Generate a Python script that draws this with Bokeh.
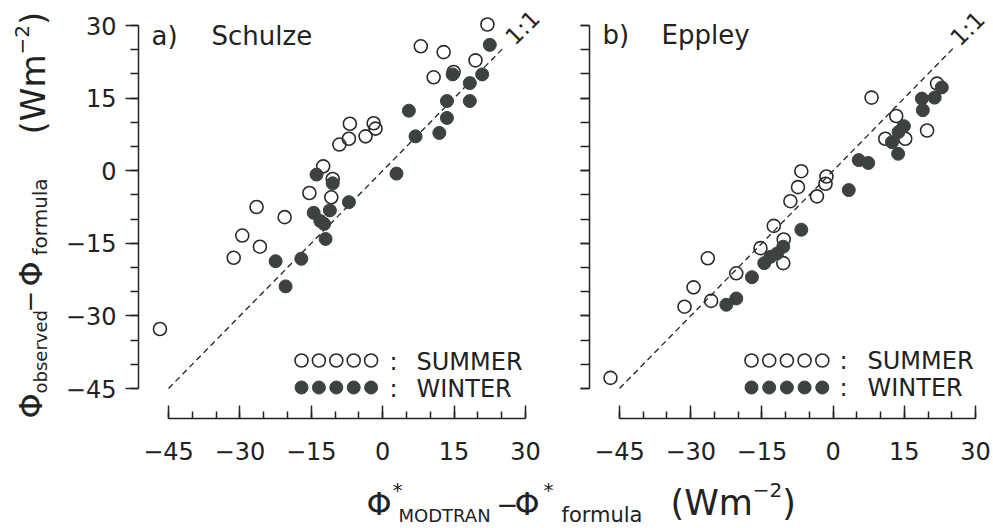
import math
from bokeh.plotting import figure
from bokeh.models import Range1d, LinearAxis, FixedTicker, CustomJSTickFormatter, Label
from bokeh.embed import file_html
from bokeh.resources import INLINE

# ---------------- data ----------------
tick_values = [-45, -30, -15, 0, 15, 30]
minor_tick_values = [-45, -40, -35, -30, -25, -20, -15, -10, -5, 0, 5, 10, 15, 20, 25, 30]
one_to_one = [-45, 25.5]

schulze_summer_x = [22.0, 8.0, 12.8, 19.5, 10.7, 14.9, -6.9, -1.9, -1.5, -3.6, -7.1, -9.1,
                    -12.5, -10.5, -15.4, -10.8, -26.5, -20.6, -29.5, -25.8, -31.3, -46.8]
schulze_summer_y = [30.2, 25.7, 24.5, 22.8, 19.3, 20.4, 9.7, 9.8, 8.7, 7.1, 6.6, 5.4,
                    0.9, -1.7, -4.6, -5.5, -7.5, -9.6, -13.4, -15.7, -18.0, -32.7]
schulze_winter_x = [22.5, 14.7, 18.3, 20.9, 13.5, 18.3, 5.5, 13.5, 6.9, 11.9, 2.9, -13.9,
                    -10.5, -7.1, -14.5, -11.1, -13.1, -12.3, -12.0, -22.5, -17.1, -20.4]
schulze_winter_y = [26.0, 19.9, 18.1, 19.9, 14.4, 14.4, 12.4, 10.9, 7.1, 7.8, -0.6, -0.8,
                    -2.6, -6.5, -8.7, -8.2, -10.4, -11.0, -14.1, -18.7, -18.2, -23.9]

eppley_summer_x = [21.9, 8.1, 13.3, 19.8, 11.0, 15.2, -6.7, -1.4, -1.6, -7.4, -3.4, -9.0,
                   -12.5, -10.4, -15.3, -10.5, -20.4, -26.4, -29.4, -31.3, -25.7, -46.9]
eppley_summer_y = [18.0, 15.1, 11.3, 8.3, 6.6, 6.6, -0.1, -1.2, -2.7, -3.4, -5.3, -6.3,
                   -11.4, -14.2, -16.0, -19.1, -21.2, -18.1, -24.1, -28.1, -26.9, -42.8]
eppley_winter_x = [22.9, 21.4, 18.7, 18.9, 14.9, 13.8, 12.4, 13.7, 5.4, 7.4, 3.3, -6.7,
                   -10.5, -11.8, -13.2, -14.5, -17.1, -20.4, -22.5]
eppley_winter_y = [17.2, 15.1, 14.9, 12.5, 9.2, 8.0, 5.9, 3.5, 2.2, 1.6, -4.0, -12.2,
                   -15.7, -17.1, -17.8, -19.1, -22.0, -26.4, -27.7]

panel_letters = ["a)", "b)"]
panel_names = ["Schulze", "Eppley"]
legend_labels = ["SUMMER", "WINTER"]

# ---------------- layout ----------------
W, H = 993, 528
SX = 357 / 75.0          # px per unit, left panel x
SXR = 356 / 75.0         # px per unit, right panel x
SY = 363 / 75.0          # px per unit, y
XL0 = -45 - 168 / SX
XR0 = -45 - 619 / SXR
YTOP = 30 + 25 / SY

def px2x(px):
    return XL0 + px / SX

def px2xr(px):
    return XR0 + px / SXR

def py2y(py):
    return YTOP - py / SY

FONT = "DejaVu Sans"
INK = "#222222"
DOT = "#3c423f"

p = figure(width=W, height=H, x_range=Range1d(px2x(0), px2x(W)),
           y_range=Range1d(py2y(H), py2y(0)), min_border=0, title=None,
           toolbar_location=None, output_backend="svg",
           x_axis_location=None, y_axis_location=None)
p.extra_x_ranges = {"right": Range1d(px2xr(0), px2xr(W))}
p.outline_line_color = None
p.grid.visible = False
p.background_fill_color = "white"

fmt = CustomJSTickFormatter(code="return tick < 0 ? '\u2212' + (-tick) : '' + tick;")
blank = CustomJSTickFormatter(code="return '';")

def style_axis(ax, major_out, major_in, minor_out, minor_in, standoff):
    ax.axis_line_color = INK
    ax.axis_line_width = 1.5
    ax.major_tick_line_color = INK
    ax.minor_tick_line_color = INK
    ax.major_tick_line_width = 1.5
    ax.minor_tick_line_width = 1.5
    ax.major_tick_out = major_out
    ax.major_tick_in = major_in
    ax.minor_tick_out = minor_out
    ax.minor_tick_in = minor_in
    ax.major_label_standoff = standoff
    ax.major_label_text_font = FONT
    ax.major_label_text_font_size = "24px"
    ax.major_label_text_color = INK

# left panel axes
ya = LinearAxis(ticker=FixedTicker(ticks=tick_values, minor_ticks=minor_tick_values),
                formatter=fmt, fixed_location=px2x(138), bounds=(-45, 30))
style_axis(ya, 13, 0, 8, 0, 9)
p.add_layout(ya, "left")

xa = LinearAxis(ticker=FixedTicker(ticks=tick_values, minor_ticks=minor_tick_values),
                formatter=fmt, fixed_location=py2y(418), bounds=(-45, 30))
style_axis(xa, 0, 13, 0, 7, 23)
p.add_layout(xa, "below")

# right panel axes
yb = LinearAxis(ticker=FixedTicker(ticks=tick_values, minor_ticks=minor_tick_values),
                formatter=blank, x_range_name="right", fixed_location=px2xr(589),
                bounds=(-45, 30))
style_axis(yb, 9, 0, 9, 0, 0)
p.add_layout(yb, "left")

xb = LinearAxis(ticker=FixedTicker(ticks=tick_values, minor_ticks=minor_tick_values),
                formatter=fmt, x_range_name="right", fixed_location=py2y(418),
                bounds=(-45, 30))
style_axis(xb, 0, 13, 0, 7, 23)
p.add_layout(xb, "below")

# 1:1 lines
p.line(one_to_one, one_to_one, line_color=INK, line_width=1.3, line_dash="6 4")
p.line(one_to_one, one_to_one, line_color=INK, line_width=1.3, line_dash="6 4",
       x_range_name="right")

# points
MS = 13
p.scatter(schulze_summer_x, schulze_summer_y, marker="circle", size=MS, fill_alpha=0,
          line_color="#2a2a2a", line_width=1.6)
p.scatter(schulze_winter_x, schulze_winter_y, marker="circle", size=MS, fill_color=DOT,
          line_color=DOT)
p.scatter(eppley_summer_x, eppley_summer_y, marker="circle", size=MS, fill_alpha=0,
          line_color="#2a2a2a", line_width=1.6, x_range_name="right")
p.scatter(eppley_winter_x, eppley_winter_y, marker="circle", size=MS, fill_color=DOT,
          line_color=DOT, x_range_name="right")

# legend swatches (positions from layout)
for x0, conv, step, rn in [(301, px2x, 17.4, "default"), (751, px2xr, 17.7, "right")]:
    xs = [conv(x0 + step * i) for i in range(5)]
    p.scatter(xs, [py2y(360)] * 5, marker="circle", size=MS, fill_alpha=0,
              line_color="#2a2a2a", line_width=1.6, x_range_name=rn)
    p.scatter(xs, [py2y(387)] * 5, marker="circle", size=MS, fill_color=DOT,
              line_color=DOT, x_range_name=rn)

K = 0.37  # renderer places the alphabetic anchor about this fraction of size above baseline

def lab(text, px, py, size, rotated=False, align="left", baseline="alphabetic", angle=None):
    if baseline == "alphabetic":
        if rotated:
            px = px - K * size
        else:
            py = py - K * size
    ang = angle if angle is not None else (math.pi / 2 if rotated else 0.0)
    p.add_layout(Label(x=px2x(px), y=py2y(py), text=text, text_font=FONT,
                       text_font_size=f"{size}px", angle=ang, text_align=align,
                       text_baseline=baseline, text_color=INK))

# panel titles
lab(panel_letters[0], 151, 45, 26)
lab(panel_names[0], 211, 45, 26)
lab(panel_letters[1], 602, 44, 26)
lab(panel_names[1], 661, 44, 26)

# 1:1 labels
lab("1:1", 522, 27, 23, align="center", baseline="middle", angle=math.pi / 4)
lab("1:1", 967, 28, 23, align="center", baseline="middle", angle=math.pi / 4)

# legend texts
for cx, tx, base1, base2 in [(389, 416, 370, 397), (839, 867, 369, 396)]:
    lab(":", cx, base1, 24)
    lab(legend_labels[0], tx, base1, 24)
    lab(":", cx, base2, 24)
    lab(legend_labels[1], tx, base2, 24)

# approximate DejaVu Sans advance widths (em)
ADV = {"Φ": 0.783, "o": 0.612, "b": 0.635, "s": 0.521, "e": 0.615, "r": 0.411,
       "v": 0.592, "d": 0.635, "f": 0.352, "m": 0.974, "u": 0.634, "l": 0.278,
       "a": 0.613, "(": 0.39, ")": 0.39, "W": 0.989, "−": 0.838, "2": 0.636}

def tw(text, size):
    return sum(ADV.get(c, 0.6) for c in text) * size

# y axis title (rotated, reading upwards)
lab("Φ", 42, 418, 32, rotated=True)
lab("observed", 47, 393, 18, rotated=True)
lab("−", 38, 312, 26, rotated=True)
lab("Φ", 42, 286, 32, rotated=True)
lab("formula", 47, 255, 20, rotated=True)
uy = 134
lab("(Wm", 45, uy, 34, rotated=True)
uy -= tw("(Wm", 34)
lab("−2", 29, uy, 20, rotated=True)
uy -= tw("−2", 20)
lab(")", 45, uy, 34, rotated=True)

# x axis title
lab("Φ", 366, 515, 32)
lab("*", 392, 497, 20)
lab("MODTRAN", 398, 522, 18)
lab("−", 496, 513, 26)
lab("Φ", 514, 515, 32)
lab("*", 543, 497, 20)
lab("formula", 561, 522, 21)
ux = 670
lab("(Wm", ux, 515, 35)
ux += tw("(Wm", 35)
lab("−2", ux, 497, 20)
ux += tw("−2", 20)
lab(")", ux, 515, 35)

open("out.html", "w").write(file_html(p, INLINE))
